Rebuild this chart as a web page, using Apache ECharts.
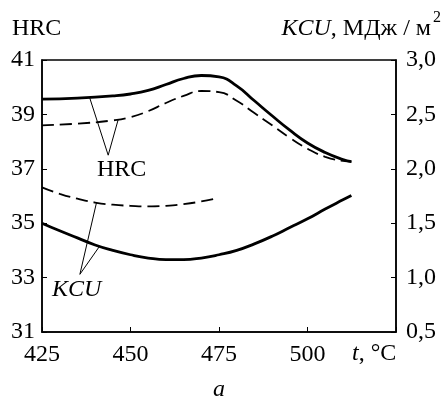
<!DOCTYPE html>
<html>
<head>
<meta charset="utf-8">
<script src="https://cdn.jsdelivr.net/npm/echarts@6/dist/echarts.min.js"></script>
<style>
  html, body { margin: 0; padding: 0; background: #fff; }
  #chart { width: 442px; height: 406px; }
</style>
</head>
<body>
<div id="chart"></div>
<script>
// температура отпуска, °C
const xTicks = [425, 450, 475, 500]

// HRC, сплошная
const hrcSolidT = [425, 435, 445, 450, 455, 460, 465, 470, 475, 480, 485, 490, 495, 500, 505, 510, 512.4]
const hrcSolid = [39.56, 39.6, 39.68, 39.75, 39.88, 40.1, 40.32, 40.43, 40.38, 40.05, 39.5, 38.95, 38.42, 37.95, 37.6, 37.34, 37.26]

// HRC, штриховая
const hrcDashT = [425, 435, 445, 450, 455, 460, 465, 470, 475, 480, 485, 490, 495, 500, 505, 510, 512.4]
const hrcDash = [38.6, 38.66, 38.78, 38.9, 39.12, 39.42, 39.68, 39.86, 39.82, 39.5, 39.05, 38.6, 38.14, 37.74, 37.44, 37.29, 37.26]

// KCU, МДж/м2, штриховая
const kcuDashT = [425, 430, 435, 440, 445, 450, 455, 460, 465, 470, 474.6]
const kcuDash = [1.83, 1.77, 1.725, 1.69, 1.67, 1.66, 1.655, 1.66, 1.675, 1.7, 1.73]

// KCU, сплошная
const kcuSolidT = [425, 430, 435, 440, 445, 450, 455, 460, 465, 470, 475, 480, 485, 490, 495, 500, 505, 510, 512.4]
const kcuSolid = [1.5, 1.43, 1.365, 1.3, 1.25, 1.21, 1.18, 1.165, 1.165, 1.18, 1.21, 1.25, 1.31, 1.38, 1.46, 1.54, 1.63, 1.715, 1.755]

const font = "'Liberation Serif', 'Times New Roman', serif"
const pairs = (xs, ys) => xs.map((x, i) => [x, ys[i]])

const chart = echarts.init(document.getElementById('chart'))

const calloutStyle = { type: 'solid', width: 1, color: '#000' }

const option = {
  animation: false,
  grid: {
    left: 42, right: 46, top: 60, bottom: 74,
    show: true, borderColor: '#000', borderWidth: 1.5
  },
  xAxis: {
    type: 'value',
    min: 425, max: 525, interval: 25,
    axisLine: { show: true, lineStyle: { color: '#000', width: 1.5 } },
    axisTick: { show: true, inside: true, length: 5, lineStyle: { color: '#000' } },
    axisLabel: {
      color: '#000', fontFamily: font, fontSize: 24, margin: 11,
      formatter: v => (xTicks.includes(v) ? String(v) : '')
    },
    splitLine: { show: false }
  },
  yAxis: [
    {
      type: 'value', min: 31, max: 41, interval: 2,
      axisLine: { show: true, lineStyle: { color: '#000', width: 1.5 } },
      axisTick: { show: true, inside: true, length: 5, lineStyle: { color: '#000' } },
      axisLabel: { color: '#000', fontFamily: font, fontSize: 24, margin: 7 },
      splitLine: { show: false }
    },
    {
      type: 'value', min: 0.5, max: 3.0, interval: 0.5, position: 'right',
      axisLine: { show: true, lineStyle: { color: '#000', width: 1.5 } },
      axisTick: { show: true, inside: true, length: 5, lineStyle: { color: '#000' } },
      axisLabel: {
        color: '#000', fontFamily: font, fontSize: 24, margin: 10,
        formatter: v => v.toFixed(1).replace('.', ',')
      },
      splitLine: { show: false }
    }
  ],
  series: [
    {
      name: 'HRC1', type: 'line', yAxisIndex: 0, smooth: 0.5, symbol: 'none',
      data: pairs(hrcSolidT, hrcSolid),
      lineStyle: { color: '#000', width: 2.8 },
      markLine: {
        silent: true, symbol: ['none', 'none'], label: { show: false },
        lineStyle: calloutStyle,
        data: [
          [{ coord: [443.7, 37.5] }, { coord: [438.5, 39.6] }],
          [{ coord: [443.7, 37.5] }, { coord: [446.5, 38.8] }]
        ]
      }
    },
    {
      name: 'HRC2', type: 'line', yAxisIndex: 0, smooth: 0.5, symbol: 'none',
      data: pairs(hrcDashT, hrcDash),
      lineStyle: { color: '#000', width: 1.8, type: [12, 6] }
    },
    {
      name: 'KCU2', type: 'line', yAxisIndex: 1, smooth: 0.5, symbol: 'none',
      data: pairs(kcuDashT, kcuDash),
      lineStyle: { color: '#000', width: 1.8, type: [12, 6] }
    },
    {
      name: 'KCU1', type: 'line', yAxisIndex: 1, smooth: 0.5, symbol: 'none',
      data: pairs(kcuSolidT, kcuSolid),
      lineStyle: { color: '#000', width: 2.8 },
      markLine: {
        silent: true, symbol: ['none', 'none'], label: { show: false },
        lineStyle: calloutStyle,
        data: [
          [{ coord: [435.7, 1.03] }, { coord: [440.4, 1.69] }],
          [{ coord: [435.7, 1.03] }, { coord: [441.3, 1.29] }]
        ]
      }
    }
  ],
  graphic: [
    { type: 'text', left: 12, top: 17, style: { text: 'HRC', font: '24px ' + font, fill: '#000' } },
    {
      type: 'text', right: 11, top: 17,
      style: {
        text: '{i|KCU}, МДж / м',
        font: '24px ' + font, fill: '#000',
        rich: { i: { fontStyle: 'italic', fontFamily: font, fontSize: 24 } }
      }
    },
    { type: 'text', right: 1, top: 10, style: { text: '2', font: '16px ' + font, fill: '#000' } },
    { type: 'text', left: 97, top: 158, style: { text: 'HRC', font: '24px ' + font, fill: '#000' } },
    { type: 'text', left: 52, top: 278, style: { text: 'KCU', font: 'italic 24px ' + font, fill: '#000' } },
    {
      type: 'text', left: 352, top: 342,
      style: {
        text: '{i|t}, °C', font: '24px ' + font, fill: '#000',
        rich: { i: { fontStyle: 'italic', fontFamily: font, fontSize: 24 } }
      }
    },
    { type: 'text', left: 213, top: 378, style: { text: 'a', font: 'italic 24px ' + font, fill: '#000' } }
  ]
}

chart.setOption(option)
</script>
</body>
</html>
